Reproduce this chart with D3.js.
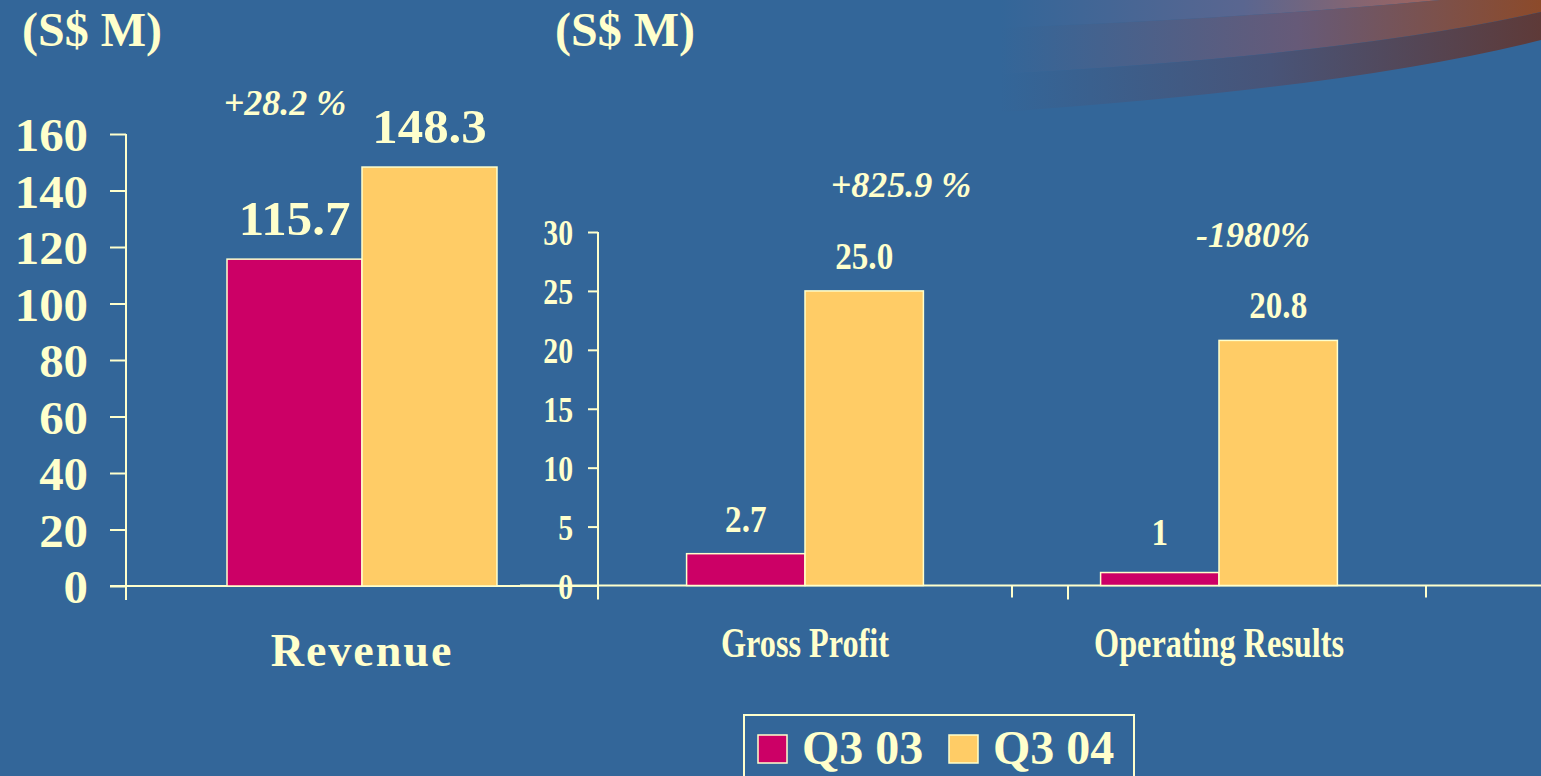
<!DOCTYPE html>
<html>
<head>
<meta charset="utf-8">
<script src="https://cdn.jsdelivr.net/npm/d3@7"></script>
<style>
  html, body { margin: 0; padding: 0; background: #336699; overflow: hidden; }
  text { font-family: "Liberation Serif", "Times New Roman", serif; font-weight: bold; fill: #FFFFCC; }
</style>
</head>
<body>
<div id="chart"></div>
<script>
// data
var series = ["Q3 03", "Q3 04"];
var seriesColors = ["#CC0066", "#FFCC66"];

var revCategories = ["Revenue"];
var revQ303 = [115.7];
var revQ304 = [148.3];
var revLabelsQ303 = ["115.7"];
var revLabelsQ304 = ["148.3"];
var revTicks = [0, 20, 40, 60, 80, 100, 120, 140, 160];

var profitCategories = ["Gross Profit", "Operating Results"];
var profitQ303 = [2.7, 1.1];
var profitQ304 = [25.0, 20.8];
var profitLabelsQ303 = ["2.7", "1"];
var profitLabelsQ304 = ["25.0", "20.8"];
var profitTicks = [0, 5, 10, 15, 20, 25, 30];

var growthLabels = ["+28.2 %", "+825.9 %", "-1980%"];
var unitLabel = "(S$ M)";

var width = 1541, height = 776;
var ink = "#FFFFCC";

var svg = d3.select("#chart").append("svg")
    .attr("width", width)
    .attr("height", height);

svg.append("rect").attr("width", width).attr("height", height).attr("fill", "#336699");

// decorative swoosh, top right
var defs = svg.append("defs");
function grad(id, stops) {
    var g = defs.append("linearGradient").attr("id", id)
        .attr("gradientUnits", "userSpaceOnUse")
        .attr("x1", 1000).attr("x2", 1541).attr("y1", 0).attr("y2", 0);
    stops.forEach(s => g.append("stop").attr("offset", s[0]).attr("stop-color", s[1]));
}
grad("swA", [[0, "#336699"], [0.45, "#5a6690"], [0.8, "#a0645e"], [1, "#a0645e"]]);
grad("swB", [[0, "#336699"], [0.55, "#665a78"], [1, "#8c4a2a"]]);
grad("swC", [[0, "#336699"], [0.5, "#485478"], [1, "#5e3a38"]]);

svg.append("path").attr("fill", "url(#swA)")
    .attr("d", "M1000,0 L1000,28 Q1250,18 1440,0 Z");
svg.append("path").attr("fill", "url(#swB)")
    .attr("d", "M1000,28 Q1250,18 1440,0 L1541,0 L1541,12 Q1350,55 1000,74 Z");
svg.append("path").attr("fill", "url(#swC)")
    .attr("d", "M1000,74 Q1350,55 1541,12 L1541,40 Q1350,88 1000,112 Z");

// squeeze/stretch text horizontally (the panels were resized on the slide)
function squeeze(sel, sx) {
    sel.each(function () {
        var t = d3.select(this);
        var x = +t.attr("x") || 0;
        t.attr("x", x / sx).attr("transform", "scale(" + sx + ",1)");
    });
}

function panel(cfg) {
    var g = svg.append("g");
    var x = d3.scaleBand().domain(cfg.categories).range(cfg.xRange);
    var y = d3.scaleLinear().domain([0, cfg.ticks[cfg.ticks.length - 1]]).range(cfg.yRange);
    var bw = x.bandwidth();
    var xs = d3.scaleBand().domain(series).range([bw * 0.214, bw * 0.786]);

    // baseline
    g.append("line")
        .attr("x1", cfg.baseFrom).attr("x2", cfg.baseTo)
        .attr("y1", y(0)).attr("y2", y(0))
        .attr("stroke", ink).attr("stroke-width", 2);

    // y axis
    var ya = g.append("g")
        .attr("transform", "translate(" + cfg.xRange[0] + ",0)")
        .call(d3.axisLeft(y).tickValues(cfg.ticks).tickSize(cfg.tickSize)
            .tickPadding(cfg.tickPad).tickSizeOuter(0));
    ya.select(".domain").remove();
    ya.selectAll(".tick line").attr("stroke", ink).attr("stroke-width", 2);
    ya.selectAll(".tick text").attr("fill", ink).attr("font-family", null)
        .style("font-size", cfg.tickFont + "px").attr("dy", "0.36em");
    if (cfg.sx !== 1) squeeze(ya.selectAll(".tick text"), cfg.sx);
    g.append("line")
        .attr("x1", cfg.xRange[0]).attr("x2", cfg.xRange[0])
        .attr("y1", y.range()[1]).attr("y2", y(0) + 14)
        .attr("stroke", ink).attr("stroke-width", 2);

    // category edge ticks
    g.selectAll("line.cat").data(cfg.categories).enter().append("line")
        .attr("x1", d => x(d) + bw).attr("x2", d => x(d) + bw)
        .attr("y1", y(0)).attr("y2", y(0) + 12)
        .attr("stroke", ink).attr("stroke-width", 2);

    var rows = cfg.categories.map((c, i) => ({
        cat: c,
        vals: [cfg.v1[i], cfg.v2[i]],
        labs: [cfg.l1[i], cfg.l2[i]]
    }));
    var cg = g.selectAll("g.cat").data(rows).enter().append("g")
        .attr("transform", d => "translate(" + x(d.cat) + ",0)");

    cg.selectAll("rect").data(d => d.vals.map((v, j) => ({ s: series[j], v: v, j: j })))
        .enter().append("rect")
        .attr("x", d => xs(d.s))
        .attr("y", d => y(d.v))
        .attr("width", xs.bandwidth())
        .attr("height", d => y(0) - y(d.v))
        .attr("fill", d => seriesColors[d.j])
        .attr("stroke", ink).attr("stroke-width", 1.5);

    cg.selectAll("text.val").data(d => d.vals.map((v, j) => ({ s: series[j], v: v, t: d.labs[j] })))
        .enter().append("text")
        .attr("class", "val")
        .attr("text-anchor", "middle")
        .style("font-size", cfg.valFont + "px")
        .attr("transform", d => "translate(" + (xs(d.s) + xs.bandwidth() / 2) + "," +
            (y(d.v) - (d.t.length < 2 ? cfg.valGap + 6 : cfg.valGap)) + ") scale(" + cfg.valSx + ",1)")
        .text(d => d.t);

    // category names
    g.selectAll("text.catname").data(cfg.categories).enter().append("text")
        .attr("text-anchor", "middle")
        .style("font-size", cfg.catFont + "px")
        .style("letter-spacing", cfg.catSpacing + "px")
        .attr("transform", d => "translate(" + (x(d) + bw / 2) + "," + cfg.catY + ") scale(" + cfg.catSx + ",1)")
        .text(d => d);

    return { x: x, y: y };
}

var left = panel({
    categories: revCategories, v1: revQ303, v2: revQ304, l1: revLabelsQ303, l2: revLabelsQ304,
    ticks: revTicks, xRange: [126, 598], yRange: [586, 134],
    baseFrom: 110, baseTo: 598,
    tickSize: 16, tickPad: 22, tickFont: 47, sx: 1.04,
    valFont: 48, valGap: 24, valSx: 1.06,
    catFont: 46, catSpacing: 2, catSx: 1, catY: 666
});

var right = panel({
    categories: profitCategories, v1: profitQ303, v2: profitQ304, l1: profitLabelsQ303, l2: profitLabelsQ304,
    ticks: profitTicks, xRange: [598, 1426], yRange: [585.5, 232],
    baseFrom: 520, baseTo: 1541,
    tickSize: 10, tickPad: 15, tickFont: 35, sx: 0.85,
    valFont: 39, valGap: 22, valSx: 0.85,
    catFont: 43, catSpacing: 0, catSx: 0.75, catY: 657
});
// stray tick left on the slide's axis
svg.append("line")
    .attr("x1", right.x("Operating Results") + 56).attr("x2", right.x("Operating Results") + 56)
    .attr("y1", right.y(0)).attr("y2", right.y(0) + 14)
    .attr("stroke", ink).attr("stroke-width", 2);

// unit labels
svg.selectAll("text.unit").data([22, 555]).enter().append("text")
    .attr("x", d => d).attr("y", 46)
    .style("font-size", "48px")
    .text(unitLabel);

// growth annotations (free-placed text boxes on the slide)
var growthPos = [[285, 115], [901, 197], [1253, 247]];
svg.selectAll("text.growth").data(growthLabels).enter().append("text")
    .attr("x", (d, i) => growthPos[i][0])
    .attr("y", (d, i) => growthPos[i][1])
    .attr("text-anchor", "middle")
    .style("font-size", "36px")
    .style("font-style", "italic")
    .text(d => d);

// legend
var lg = svg.append("g").attr("transform", "translate(744,715)");
lg.append("rect").attr("width", 390).attr("height", 80)
    .attr("fill", "none").attr("stroke", ink).attr("stroke-width", 2);
var li = lg.selectAll("g.item").data(series).enter().append("g")
    .attr("transform", (d, i) => "translate(" + (14 + i * 191) + ",20)");
li.append("rect").attr("width", 29).attr("height", 28)
    .attr("fill", (d, i) => seriesColors[i])
    .attr("stroke", ink).attr("stroke-width", 1.5);
li.append("text").attr("x", 44).attr("y", 29)
    .style("font-size", "48px")
    .text(d => d);
</script>
</body>
</html>
